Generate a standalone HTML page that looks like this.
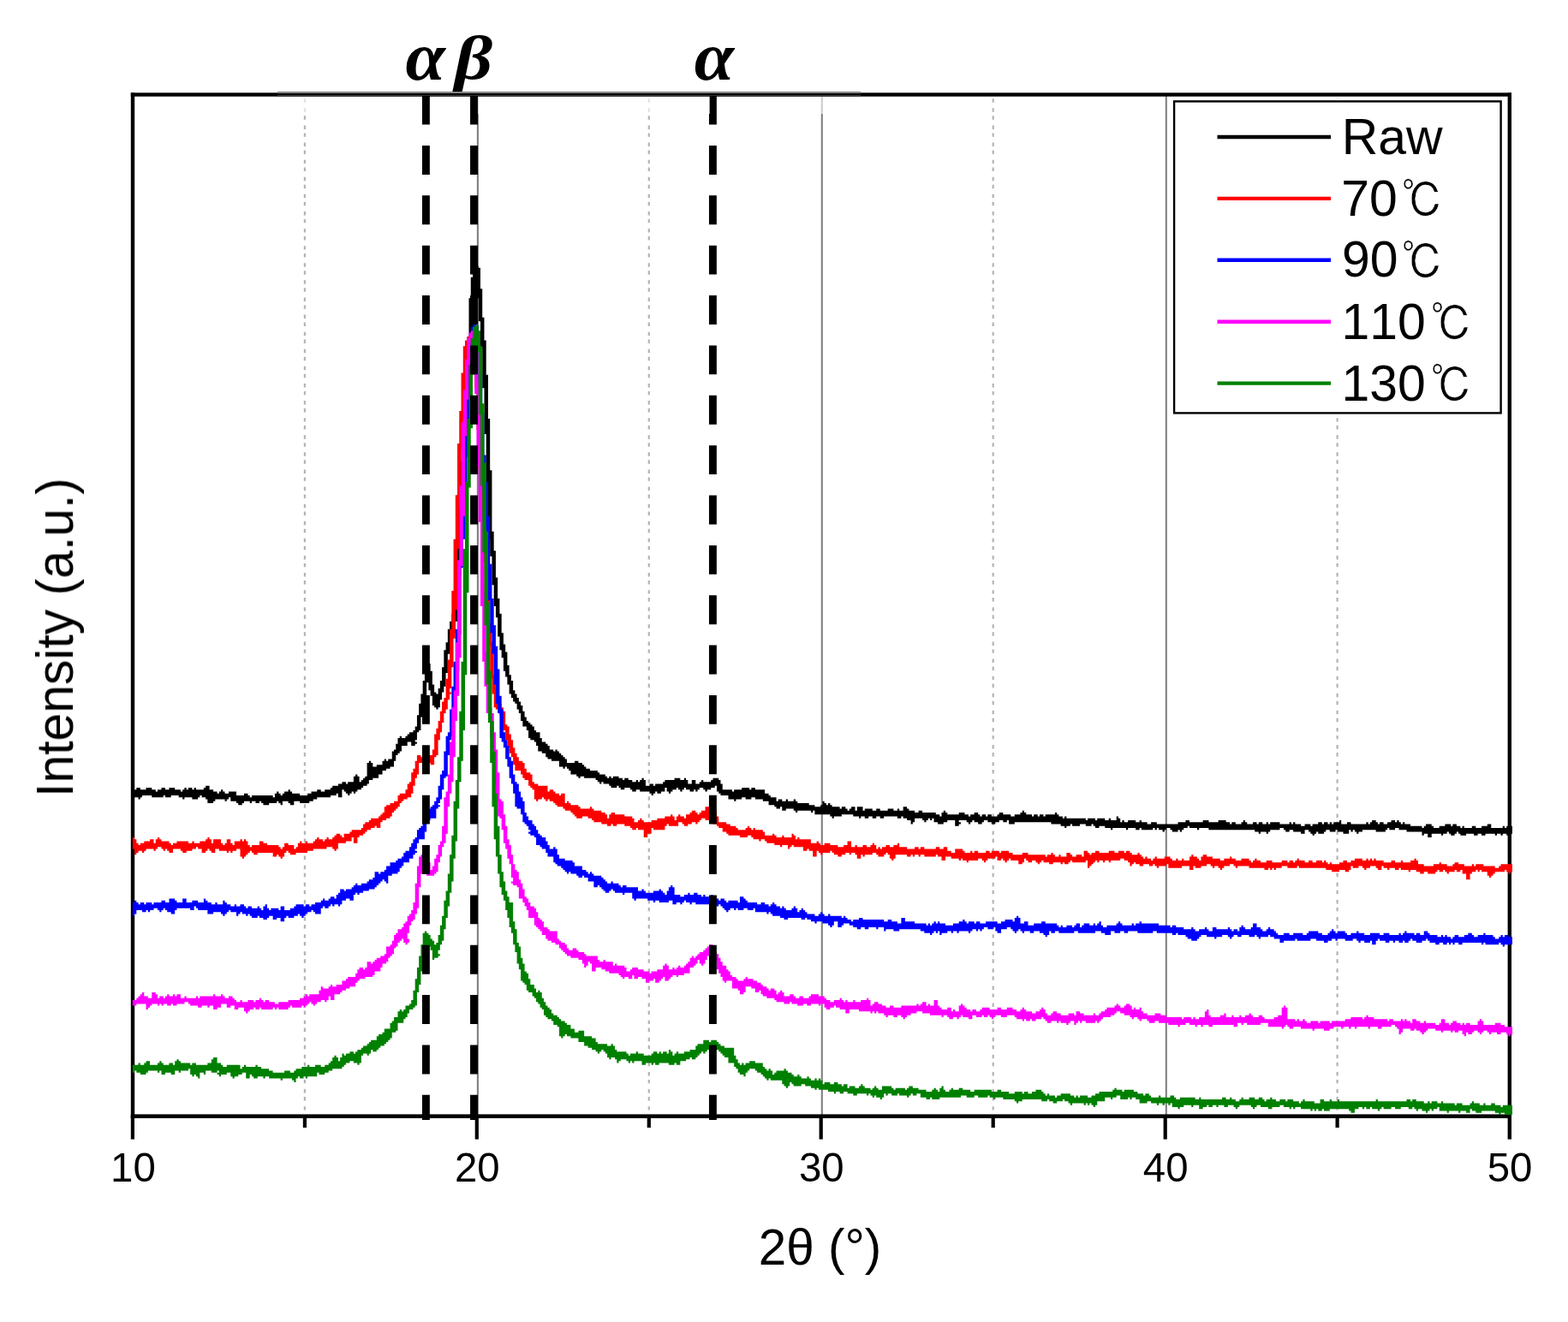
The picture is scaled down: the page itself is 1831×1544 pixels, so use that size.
<!DOCTYPE html>
<html lang="en"><head><meta charset="utf-8"><title>XRD patterns</title>
<style>html,body{margin:0;padding:0;background:#fff}body{width:1831px;height:1544px;overflow:hidden}svg{display:block}text{font-family:"Liberation Sans","Noto Sans CJK KR",sans-serif;fill:#000;font-kerning:none;filter:blur(0.45px)}.gk{font-family:"Liberation Serif","DejaVu Serif",serif;font-weight:bold;font-style:italic}.dc{font-family:"IPAGothic","Noto Sans CJK JP",sans-serif;stroke:#fff;stroke-width:0.5px}</style></head><body>
<svg width="1831" height="1544" viewBox="0 0 1831 1544">
<rect x="0" y="0" width="1831" height="1544" fill="#ffffff"/>
<g stroke="#b4b4b4" stroke-width="2.2" stroke-dasharray="4.45 6.7 4.45 4.5" stroke-dashoffset="-0.2" fill="none">
<line x1="355.9" y1="115" x2="355.9" y2="1298"/>
<line x1="757.8" y1="115" x2="757.8" y2="1298"/>
<line x1="1159.7" y1="115" x2="1159.7" y2="1298"/>
<line x1="1561.6" y1="115" x2="1561.6" y2="1298"/>
</g>
<g stroke="#808080" stroke-width="2.1" fill="none">
<line x1="557.9" y1="112" x2="557.9" y2="1302"/>
<line x1="959.8" y1="112" x2="959.8" y2="1302"/>
<line x1="1361.8" y1="112" x2="1361.8" y2="1302"/>
</g>
<rect x="324" y="112.5" width="681" height="20.5" fill="#fff" fill-opacity="0.6"/>
<g fill="#000">
<rect x="152.8" y="108.3" width="4.4" height="1197.7"/>
<rect x="1760.6" y="108.3" width="4.4" height="1222.3"/>
<rect x="152.8" y="108.3" width="1612.0" height="4.4"/>
<rect x="152.8" y="1301.4" width="1612.0" height="4.6"/>
<rect x="152.8" y="1303" width="4.2" height="27.6"/>
<rect x="554.7" y="1303" width="4.2" height="27.6"/>
<rect x="956.6" y="1303" width="4.2" height="27.6"/>
<rect x="1358.6" y="1303" width="4.2" height="27.6"/>
<rect x="353.8" y="1303" width="4.2" height="14"/>
<rect x="755.7" y="1303" width="4.2" height="14"/>
<rect x="1157.6" y="1303" width="4.2" height="14"/>
<rect x="1559.5" y="1303" width="4.2" height="14"/>
</g>
<rect x="324" y="106.9" width="681" height="2.1" fill="#858585"/>
<rect x="324" y="109" width="681" height="2" fill="#000"/>
<rect x="324" y="111" width="681" height="1.8" fill="#3c3c3c"/>
<g transform="scale(2.2439,2.2331)" stroke="none">
<path fill="#000000" d="M248 139h1v1h1v11h1v15h1v12h1v18h1v23h1v27h1v32h1v10h1v14h1v11h1v8h1v10h1v6h1v4h1v7h1v5h1v3h1v5h1v2h1v2h1v2h1v2h1v3h1v3h1v2h1v1h1v1h1v1h1v2h1v1h2v3h1v2h2v1h1v1h1v2h2v1h1v-1h1v1h1v1h1v1h1v1h1v1h1v2h4v-1h2v1h2v1h1v1h1v1h2v1h4v1h1v1h3v1h1v1h1v-1h1v1h1v-1h3v1h2v1h1v-1h2v1h2v1h2v-1h1v1h1v-1h1v-1h1v1h1v3h2v-1h2v1h1v-1h4v-1h1v-1h5v-1h3v1h2v-1h1v1h1v2h2v-2h2v2h2v-1h1v-1h1v1h4v-1h1v-1h3v1h1v2h1v3h5v1h1v-1h4v-1h4v1h1v-1h2v1h5v2h2v1h1v1h3v2h1v-1h2v1h2v-1h1v1h3v-1h1v1h1v1h6v1h3v1h3v-1h1v-2h1v1h1v1h1v-1h1v1h1v1h4v1h1v-1h2v1h1v1h1v-1h1v-1h2v2h1v-2h3v2h1v-1h4v1h2v-1h2v1h4v-1h3v1h2v-1h1v1h2v-2h2v1h1v1h3v1h2v-1h2v1h7v1h2v1h1v-2h1v-1h1v1h1v1h6v-1h3v1h2v1h1v-1h2v-1h2v1h1v1h1v-1h2v1h1v-1h2v1h3v-1h1v-1h2v1h4v1h2v-1h3v-1h1v-1h1v1h1v1h3v1h1v-1h2v1h1v-1h2v1h1v-1h5v-1h1v1h1v1h2v1h1v-1h1v1h10v1h1v-1h4v1h1v-1h4v1h2v-1h1v1h3v-2h1v1h1v2h1v-1h1v1h2v-1h4v1h2v-1h1v1h3v1h2v-1h3v1h11v-1h4v-1h2v1h7v-1h3v1h5v-1h4v1h2v1h1v-1h2v1h3v-1h1v-1h1v1h1v1h3v-1h2v1h1v-1h2v1h2v-1h1v1h1v-1h5v1h5v-1h1v1h1v-1h1v1h3v1h2v-1h3v1h1v-1h3v-1h2v1h1v-1h2v1h1v-1h1v1h1v-1h3v-1h1v2h3v-1h2v1h8v-1h1v1h1v-1h1v-1h2v1h1v1h1v-1h2v1h2v-1h2v-1h2v1h1v-1h1v1h1v1h1v-1h1v1h3v1h6v1h1v-1h1v-1h3v1h1v1h3v-1h3v-1h3v1h1v-1h2v1h2v1h1v-1h1v1h4v-1h2v1h3v-1h3v-1h2v2h6v-1h1v1h1v-1h3v4h-2v1h-1v-1h-2v1h-1v-1h-2v1h-1v-1h-5v1h-2v-1h-2v1h-2v-1h-4v1h-3v-1h-1v-1h-1v1h-1v1h-2v-1h-1v-1h-1v1h-2v1h-1v-1h-5v2h-2v-2h-2v1h-1v-2h-8v-1h-4v-1h-2v1h-3v-1h-1v1h-1v1h-5v-1h-7v1h-2v1h-1v-1h-1v-1h-1v1h-1v-1h-1v2h-3v-1h-3v-1h-1v1h-3v-1h-2v1h-1v1h-3v-1h-1v1h-1v1h-1v-1h-1v-1h-1v-1h-2v2h-2v-1h-4v-1h-2v1h-2v-1h-1v-1h-2v1h-5v1h-1v1h-1v-1h-3v1h-1v-1h-2v-1h-24v-1h-5v1h-1v-1h-4v-1h-1v1h-2v1h-1v1h-1v-1h-1v1h-3v-1h-1v-1h-2v1h-1v1h-1v-1h-2v-1h-1v1h-1v-1h-1v1h-6v-1h-1v1h-2v-1h-4v1h-1v-1h-7v1h-1v-1h-3v-1h-3v1h-2v-1h-1v-1h-1v1h-3v-1h-3v1h-4v-1h-1v1h-2v1h-1v-1h-2v-1h-5v-1h-19v1h-3v-2h-1v1h-2v-1h-2v1h-2v1h-2v-1h-2v-1h-2v1h-1v1h-2v-1h-2v-1h-1v1h-1v1h-1v-1h-1v-1h-4v1h1v1h-1v1h-2v-3h-4v1h-2v1h-3v-1h-2v-2h-1v1h-1v-1h-1v1h-1v1h-1v-1h-1v-1h-4v2h-1v1h-1v-2h-2v-1h-2v-1h-1v1h-2v-1h-7v1h-2v-1h-2v1h-2v-1h-2v1h-2v-1h-2v1h-1v-1h-3v-1h-6v1h-4v1h-1v-1h-1v-1h-8v-2h-1v1h-1v-1h-7v1h-1v-1h-1v-1h-4v1h-2v-2h-1v1h-2v-1h-1v-1h-3v-2h-3v-1h-4v-1h-2v1h-3v-1h-2v1h-3v1h-1v-1h-3v-2h-4v-1h-1v-1h-1v-3h-1v1h-2v1h-2v1h-1v-1h-1v-1h-2v1h-1v1h-1v-1h-1v1h-2v-1h-2v-1h-1v1h-1v1h-1v-1h-1v-1h-1v1h-2v1h-1v1h-1v-1h-1v-2h-1v2h-2v1h-2v-1h-1v1h-1v1h-1v-1h-1v-1h-5v-1h-2v1h-2v-1h-1v-1h-3v1h-2v-1h-1v-1h-1v1h-3v-1h-1v-1h-3v-1h-1v1h-1v-1h-1v-1h-1v-1h-6v-1h-2v1h-1v-1h-1v-1h-3v-2h-1v-1h-1v-1h-1v1h-1v-1h-2v-3h-4v-1h-2v-1h-1v-2h-2v-1h-2v-3h-1v-2h-1v-1h-2v-1h-1v-4h-1v-2h-2v-3h-1v-4h-1v-2h-1v-3h-1v-1h-1v-2h-1v-2h-1v-5h-1v-4h-1v-3h-1v-7h-1v-4h-1v-7h-1v-10h-1v-6h-1v-11h-1v-15h-1v-9h-1v-28h-1v-27h-1v-24h-1v-21h-1v-14h-1v-12h-2v5h-1v20h-1v19h-1v14h-1v13h-1v19h-1v22h-1v33h-1v18h-1v1h1v1h-1v4h-1v6h-1v2h-1v8h-1v1h-1v10h-1v7h-1v3h-1v4h-1v4h-1v1h-1v-1h-1v-1h-1v-5h-1v-3h-1v-4h-1v9h-1v5h-1v4h-1v7h-1v1h-1v4h-1v1h1v1h-1v1h-2v-2h-2v2h-3v3h-1v1h-1v1h-1v3h-1v3h-2v1h-2v1h-2v2h-2v2h-3v1h-2v2h-1v1h-2v1h-1v1h-2v1h-1v1h-1v-1h-1v1h-1v1h-1v-1h-1v-1h-1v-1h-1v4h-2v-2h-1v1h-3v1h-7v1h-2v1h-2v1h-5v-1h-3v2h-2v-1h-1v-1h-3v2h-1v-1h-1v-1h-1v1h-4v1h-3v-1h-1v-1h-1v1h-2v-1h-2v1h-1v-1h-3v1h-1v1h-2v-1h-1v-1h-3v-2h-1v1h-1v1h-1v-1h-5v1h-1v1h-3v-2h-1v-1h-2v-1h-1v1h-1v1h-3v-1h-4v1h-1v-1h-2v-1h-4v1h-3v-1h-1v1h-6v-1h-5v1h-1v1h-1v-1h-2v1h-1v-4h1v-1h1v-1h2v1h3v-1h3v1h2v1h1v-1h2v-1h2v1h2v-1h3v1h3v1h1v-1h1v-1h1v1h1v-1h2v1h1v-1h1v1h4v-1h1v-1h2v2h2v1h2v1h1v-1h1v-1h1v1h1v1h2v-1h4v2h4v-1h2v1h1v1h1v-1h11v1h1v-2h1v-1h1v1h1v1h1v-1h1v-1h2v-1h1v1h1v1h4v1h4v-1h2v-1h3v-1h2v1h2v-1h3v-1h1v-1h3v-1h2v-1h2v1h1v-1h3v-3h1v-1h1v1h1v3h1v-1h1v-1h1v-1h1v-7h1v-1h1v1h1v2h2v-1h3v-2h1v-1h1v1h1v-1h2v-4h1v-1h1v-3h1v-3h1v-1h1v1h2v-1h1v-1h1v-1h2v-1h1v-2h1v-6h1v-6h1v-5h1v-7h1v-6h1v-3h2v4h1v7h1v4h1v1h1v-3h1v-4h1v-7h1v-9h1v-4h1v-7h1v-4h1v-4h1v-4h1v-20h1v-33h1v-23h1v-18h1v-13h1v-12h1v-20h1v-22h1v-11h1v-4h1v-1h1z"/>
<path fill="#ff0000" d="M243 176h3v1h1v1h1v4h1v15h1v25h1v21h1v21h1v24h1v18h1v20h1v10h1v17h1v7h1v6h1v2h1v2h1v2h1v7h1v1h1v4h1v3h1v4h1v3h1v2h1v2h2v1h1v3h1v2h2v1h1v4h1v1h2v1h5v3h1v-1h2v1h1v1h2v1h1v-1h2v5h1v-1h1v1h1v1h4v1h1v1h5v-1h1v1h1v1h4v1h2v1h1v2h1v-2h1v-1h2v1h5v1h4v1h1v2h2v-1h1v-1h1v1h1v1h4v-1h3v-1h4v-1h3v-1h1v1h1v2h1v-2h1v-1h1v1h2v1h1v-2h2v-1h1v-1h2v1h1v1h1v-1h1v-1h2v-2h2v1h1v1h3v3h1v3h4v1h2v1h3v1h1v1h4v-1h1v-1h1v1h1v1h1v-1h1v1h4v1h1v2h4v-1h1v1h1v1h3v-1h1v1h4v-2h1v1h1v2h1v-1h1v1h6v2h3v-1h1v1h1v1h2v-1h3v1h4v1h3v-1h2v-2h2v3h2v-1h1v1h3v-1h2v1h2v-1h1v-1h1v1h1v2h1v-1h1v1h1v-1h2v-1h2v1h2v-1h2v-1h1v2h4v1h4v-1h2v1h1v-1h2v1h6v-1h2v1h2v-1h2v2h2v1h2v-2h4v1h1v1h3v-1h1v1h1v-1h2v1h4v-1h2v1h1v-1h4v1h1v-1h4v1h2v1h5v-1h3v1h9v1h1v-1h2v-1h1v1h1v1h2v-1h1v1h3v-2h2v1h1v1h2v-1h3v1h1v-3h2v1h1v1h1v-1h2v-1h2v1h5v-1h3v1h2v-1h3v1h1v-1h2v1h1v1h3v-1h1v1h1v1h1v1h1v-1h1v1h2v1h1v-1h1v-1h1v1h4v-1h3v1h1v1h2v-1h1v1h2v-1h1v1h3v-2h1v-1h1v1h2v1h1v1h1v-2h1v-1h2v1h3v1h4v1h2v-1h3v-1h1v1h2v1h3v-1h4v1h1v1h1v-1h1v-1h1v1h2v1h3v-1h3v1h5v-1h3v1h1v-1h2v1h1v-1h1v-1h1v1h3v1h2v-1h2v1h2v-1h3v1h1v-1h1v1h1v1h1v-1h1v1h4v-1h2v-1h2v1h2v-1h2v-1h4v1h2v-1h1v1h1v-1h1v1h1v-1h1v1h4v1h4v-1h2v1h3v-1h1v1h4v-1h2v-1h1v1h1v2h3v1h5v-1h3v-1h1v1h3v1h3v-1h1v-1h2v1h3v1h4v-1h1v1h1v-1h4v1h6v1h2v-1h1v-1h6v4h-1v1h-1v-1h-1v-1h-1v1h-5v1h-1v1h-1v1h-1v-1h-1v-2h-3v-1h-1v1h-1v-1h-1v1h-2v1h-1v3h-2v-3h-2v-2h-1v1h-2v-1h-1v1h-3v1h-1v-1h-1v-1h-1v1h-2v-1h-1v1h-1v1h-4v-1h-2v1h-2v-1h-2v-1h-3v1h-1v-1h-4v-1h-1v1h-2v-1h-3v1h-1v-1h-2v-1h-1v2h-2v-1h-1v-1h-3v1h-2v1h-1v-1h-1v-1h-2v1h-3v-1h-1v2h-1v1h-2v-1h-3v1h-4v-1h-3v-1h-14v-1h-1v1h-5v-1h-3v1h-3v1h-1v-1h-1v1h-1v-1h-1v1h-2v-1h-8v-1h-6v1h-1v-1h-1v-1h-2v1h-3v1h-1v1h-1v-1h-1v-1h-2v1h-1v-1h-1v-1h-2v1h-3v1h-3v-1h-1v2h-2v-2h-4v1h-7v-2h-1v1h-4v1h-1v-1h-1v-1h-1v1h-2v-1h-3v1h-2v-1h-2v-1h-1v1h-1v1h-1v-2h-1v-1h-2v-1h-2v1h-5v1h-1v-1h-2v1h-1v-1h-2v1h-1v-1h-1v1h-1v1h-1v1h-1v1h-1v-4h-1v1h-7v-1h-1v1h-1v1h-2v-1h-1v1h-1v-1h-4v1h-2v-1h-3v-1h-1v1h-1v1h-1v-1h-1v-1h-2v1h-2v-1h-1v-1h-1v2h-1v1h-2v-2h-4v-1h-1v1h-1v1h-1v-1h-1v-1h-1v1h-2v-2h-1v1h-4v1h-1v1h-1v-1h-1v-1h-2v1h-5v1h-1v-1h-2v-1h-1v1h-1v-1h-4v-1h-3v2h-2v-2h-2v-1h-1v1h-6v-1h-2v1h-1v-1h-2v1h-1v-1h-1v1h-2v-1h-6v2h-1v1h-1v-1h-1v-2h-1v-1h-1v1h-1v1h-3v-1h-1v-1h-2v1h-4v1h-1v-1h-1v2h-2v-2h-1v-1h-2v1h-1v-1h-2v1h-2v1h-2v-1h-2v-1h-1v-1h-1v1h-4v1h-1v-1h-1v-1h-1v3h-2v-3h-2v-1h-1v1h-2v-2h-5v-1h-1v1h-1v1h-1v-2h-3v1h-1v-1h-3v-1h-4v-1h-1v-1h-2v1h-1v-1h-3v-1h-1v-1h-2v1h-4v-1h-6v-1h-1v-1h-2v-2h-2v-1h-1v-1h-2v-1h-1v-2h-1v1h-2v-1h-2v1h-1v1h-1v1h-1v-1h-2v1h-2v1h-2v-1h-1v-1h-2v2h-5v-1h-1v1h-1v2h-6v-1h-1v3h-2v2h-2v-4h-3v-1h-1v1h-2v-1h-1v-1h-3v-1h-4v1h-2v-1h-1v1h-2v-1h-3v-1h-4v-1h-1v-1h-2v-1h-3v1h-3v-1h-1v-1h-1v-1h-1v-1h-3v-1h-1v-1h-3v-1h-1v-1h-1v-1h-2v-1h-1v1h-1v-1h-1v-1h-1v1h-2v1h-1v-1h-1v-5h-1v-1h-1v-1h-1v-3h-2v-1h-1v-2h-1v-2h-3v-3h-1v-4h-1v-2h-1v-3h-1v-4h-1v-5h-1v-1h-1v-7h-1v-2h-1v-1h-1v-1h-1v-7h-1v-8h-1v-17h-1v-7h-1v-20h-1v-17h-1v-24h-1v-24h-1v-21h-1v-22h-1v-18h-1v-6h-2v4h-1v17h-1v20h-1v15h-1v30h-1v22h-1v32h-1v15h-1v15h-1v11h-1v2h1v1h-1v3h-1v5h-1v2h-1v5h-1v5h-1v4h-1v8h-1v1h-1v4h-2v-1h-1v1h-1v1h-1v-1h-1v-1h-2v6h-1v2h-1v4h-1v4h-1v2h-2v1h-2v1h-1v1h-1v2h-1v1h-1v1h-1v1h-1v2h-1v1h-2v1h-2v1h-1v3h-2v-1h-1v1h-2v1h-2v1h-1v1h-1v1h-2v1h-1v3h-2v-3h-1v2h-3v1h-4v3h-1v1h-1v-1h-1v-1h-3v1h-7v1h-3v1h-6v1h-3v-1h-1v-1h-1v1h-1v2h-1v1h-1v-1h-1v-1h-1v1h-2v-2h-8v1h-2v-1h-1v-1h-1v1h-1v1h-1v1h-1v1h-1v-1h-1v-4h-2v1h-2v1h-1v-1h-1v1h-1v-1h-4v-1h-2v2h-2v-1h-1v-1h-1v1h-1v1h-2v-2h-2v-1h-1v1h-2v1h-3v1h-2v-1h-1v-1h-4v2h-2v-1h-1v-1h-1v1h-1v-1h-1v-1h-2v1h-1v1h-1v-1h-4v1h-1v1h-1v-1h-2v1h-1v1h-1v-3h-1v-6h1v1h1v2h1v1h1v-1h2v-1h3v-1h2v2h1v-2h1v-1h1v1h1v1h4v1h1v1h1v-1h2v-1h6v1h2v-1h1v1h3v-1h3v-1h1v-1h1v1h1v2h1v-2h4v2h1v1h1v-1h1v-2h2v2h1v1h1v-2h3v-1h1v1h1v-1h1v1h1v2h1v1h1v-1h4v-2h2v1h2v1h6v1h1v1h1v-1h1v-2h2v1h3v2h1v-1h1v-2h1v-1h1v1h2v-1h1v1h3v-1h1v-1h1v-1h1v1h2v1h1v-1h1v-1h1v1h2v-1h1v-1h1v-1h2v1h1v1h1v-2h3v-1h1v-1h5v-1h1v-2h1v-1h2v-1h1v-1h4v-1h1v-1h1v-1h1v-3h1v-1h2v-1h2v-1h2v-3h1v-1h3v-2h1v-3h1v-1h1v-5h1v-2h1v-4h1v-3h2v1h1v-2h1v-1h1v1h1v1h2v-3h1v-8h1v-3h1v-4h1v-5h1v-5h1v-2h1v-10h1v-10h1v-16h1v-20h1v-27h1v-23h1v-27h1v-17h1v-20h1v-14h1v-3h1z"/>
<path fill="#0000ff" d="M246 169h2v1h1v5h1v20h1v21h1v22h1v14h1v18h1v25h1v18h1v14h1v11h1v12h1v14h1v7h1v12h1v4h1v3h1v6h1v2h1v7h1v4h1v1h1v4h1v3h1v2h1v6h1v2h1v2h2v2h1v1h1v2h1v2h1v1h1v1h2v2h1v2h1v2h2v-1h1v1h1v3h1v2h3v1h4v1h1v2h4v2h2v1h1v1h1v-1h1v1h1v1h4v1h1v1h1v1h1v1h2v-1h1v1h3v1h1v1h1v-1h2v1h6v2h2v-1h1v1h1v1h4v-1h3v-1h1v1h1v1h1v1h1v-2h1v-2h1v-1h1v1h1v4h3v1h2v-1h2v-1h1v1h2v-1h2v1h2v1h1v-1h1v1h3v-1h1v1h2v1h1v1h1v-1h2v1h1v1h1v-1h5v1h1v-3h2v1h1v1h1v1h5v1h2v-1h2v1h2v1h1v-1h1v-1h1v1h1v1h2v1h1v-1h1v1h1v1h3v-1h1v-1h1v1h1v2h1v-1h1v-1h1v1h1v1h1v1h4v1h2v-1h1v-1h1v1h1v1h2v-1h1v1h6v1h1v-1h1v1h1v1h2v1h1v-1h3v-1h2v1h11v1h2v-1h2v1h3v1h2v-3h2v2h5v1h6v1h1v-1h1v1h1v-1h1v-1h1v1h1v-1h1v1h3v1h4v-1h3v-1h2v-1h1v1h1v1h1v-1h3v1h1v-1h2v1h3v-1h6v1h2v-1h2v-1h4v1h1v-2h1v-1h1v1h1v3h2v-1h2v2h3v-1h4v-1h2v1h6v1h1v1h1v-1h1v1h2v-1h3v1h1v-1h1v-1h2v2h1v-1h1v-1h3v1h2v-1h1v1h1v-1h1v-1h1v2h1v1h2v-1h5v-1h1v-1h1v1h1v1h5v-1h1v1h1v-1h2v-1h1v1h9v1h6v1h1v-1h2v1h4v1h4v-1h1v1h1v1h2v-1h3v-1h1v1h1v1h2v-2h2v1h6v-1h1v1h1v1h1v-1h2v1h1v-2h1v-1h1v1h1v1h3v-1h1v-2h2v2h2v1h1v1h2v-1h1v-1h1v1h2v1h1v1h1v1h3v-1h3v1h2v-1h5v1h2v-1h1v-1h5v1h2v1h3v-1h1v-1h1v-1h1v1h1v1h1v-1h4v1h1v1h2v-1h3v-1h1v1h3v1h3v-1h5v1h2v-1h3v1h5v-1h1v1h1v-1h1v-1h1v1h4v1h1v-1h2v1h2v-2h2v1h1v1h4v1h2v-1h1v1h1v-1h1v1h2v1h1v-1h1v-1h2v1h3v-1h2v-1h2v1h1v1h2v-1h3v-1h1v1h4v1h1v1h2v-1h1v-1h1v1h1v-1h2v1h2v4h-4v1h-1v-1h-1v-1h-1v1h-7v-1h-1v1h-1v-1h-10v1h-2v-1h-2v1h-1v-1h-1v1h-1v-1h-1v1h-2v-1h-2v1h-2v-1h-3v-1h-1v-1h-1v1h-2v1h-3v-1h-2v-1h-1v1h-1v1h-2v-1h-1v1h-2v-1h-2v1h-1v-1h-2v1h-2v-1h-3v-1h-1v1h-1v2h-2v-2h-1v1h-3v-1h-2v1h-1v-1h-1v-1h-2v1h-4v-1h-4v1h-1v-1h-2v1h-2v1h-2v-1h-4v-1h-3v1h-7v-1h-1v1h-6v1h-2v-2h-3v-1h-2v-1h-1v1h-4v1h-1v-1h-1v-1h-1v1h-3v-1h-4v1h-2v-1h-2v1h-1v1h-1v-1h-1v-1h-3v1h-3v1h-1v-1h-4v-1h-3v1h-1v1h-1v1h-3v-1h-2v-1h-1v-1h-4v-1h-1v1h-2v-1h-8v-1h-2v1h-8v-1h-5v1h-2v-1h-2v1h-3v-1h-2v2h-3v-1h-2v-1h-3v1h-9v-1h-2v1h-8v-1h-2v1h-2v-1h-1v2h-1v1h-1v-1h-1v-1h-2v-1h-3v1h-2v-1h-3v1h-1v-1h-1v-1h-1v1h-1v1h-1v-1h-1v-1h-1v-1h-2v1h-3v2h-2v-1h-1v-2h-1v1h-3v-1h-2v1h-1v1h-1v-1h-1v1h-1v-1h-2v1h-1v1h-1v-1h-5v1h-1v-1h-2v1h-1v-1h-2v1h-3v1h-1v-2h-1v1h-1v-1h-1v1h-1v1h-1v-1h-3v-1h-2v-1h-11v1h-3v-1h-4v1h-1v-2h-3v1h-1v-1h-4v1h-2v-1h-2v1h-2v-1h-2v-1h-2v-1h-3v1h-1v1h-2v-3h-2v2h-1v1h-1v-1h-1v-1h-3v-1h-3v1h-1v-1h-2v-1h-2v-1h-1v1h-2v-1h-7v1h-2v-1h-2v-1h-4v-1h-1v-1h-1v1h-1v-1h-6v-2h-1v1h-3v-1h-2v1h-3v-1h-1v1h-1v-1h-2v1h-1v1h-1v-1h-1v-1h-1v-1h-1v-1h-1v1h-3v-1h-9v-1h-2v1h-1v-1h-2v-1h-1v1h-1v1h-1v-1h-2v1h-2v-2h-2v1h-5v-1h-2v1h-1v-1h-3v-1h-6v1h-1v-1h-1v-3h-4v1h-1v-1h-4v-1h-1v-1h-1v1h-1v1h-2v-1h-1v-1h-1v-1h-1v-1h-1v1h-2v-3h-3v-2h-2v-1h-1v1h-2v-1h-1v-1h-3v-1h-1v1h-1v-1h-1v-1h-1v-1h-1v-1h-2v-1h-1v-1h-1v-3h-3v-2h-1v-2h-2v-1h-1v-1h-2v-4h-1v-1h-2v-1h-1v-1h1v-1h-1v-2h-1v-1h-1v-1h-1v-4h-1v-3h-2v-1h-1v-7h-1v-5h-1v-3h-1v-6h-1v-4h-1v-6h-1v-3h-1v-2h-1v-13h-1v-5h-1v-10h-1v-16h-1v-11h-1v-17h-1v-13h-1v-24h-1v-20h-1v-13h-1v-22h-1v-19h-1v-25h-1v5h-1v16h-1v20h-1v20h-1v21h-1v22h-1v15h-1v35h-1v19h-1v13h-1v12h-1v9h-1v2h-1v8h-1v11h-1v1h-1v6h-1v5h-1v2h-1v1h1v1h-1v1h-1v5h-3v1h-1v1h-1v5h-1v4h-3v2h-1v3h-1v1h1v1h-1v1h-1v2h-2v2h-3v2h-1v1h-1v2h-1v1h-3v1h-2v4h-1v-1h-1v-1h-1v1h-1v1h-1v1h-1v1h-1v1h-3v1h-3v1h-2v1h-1v-1h-1v1h-1v3h-2v-1h-2v1h-2v2h-1v1h-1v-1h-2v1h-1v-1h-1v1h-1v1h-2v-1h-1v1h-1v3h-3v-1h-1v-1h-1v1h-2v1h-1v1h-1v1h-1v-1h-1v-1h-1v1h-2v1h-3v-1h-1v1h-1v2h-2v-2h-2v1h-2v-2h-2v1h-1v1h-2v-1h-2v-1h-1v1h-3v-1h-1v-1h-1v1h-1v-1h-2v-1h-1v1h-1v1h-1v-2h-3v-1h-1v1h-1v1h-1v1h-1v-1h-1v-1h-4v1h-3v-2h-5v-1h-1v-1h-1v2h-2v-1h-7v1h-1v2h-2v-1h-2v-1h-1v-1h-1v1h-1v1h-1v-1h-1v-1h-2v1h-2v1h-1v-1h-1v1h-2v-1h-3v2h-1v1h-1v-7h1v-1h1v1h1v1h1v-1h2v1h1v-1h3v1h1v-1h4v-1h2v1h2v-2h3v1h1v1h3v-2h2v2h3v-1h3v1h3v-2h1v1h1v1h2v1h2v-1h1v1h3v-2h1v1h1v1h2v1h2v-1h1v1h2v-1h2v1h1v1h1v-1h2v1h3v-1h1v1h1v1h1v-2h1v-1h1v2h1v1h1v-1h4v1h1v-2h2v2h3v-1h2v-1h1v-1h4v1h1v-1h2v1h1v-1h2v-1h3v-1h1v-1h1v1h2v-1h1v-1h2v1h1v-2h1v-1h1v-2h2v1h1v-1h3v-1h1v-1h1v-1h1v1h2v-1h3v-1h1v-1h2v-1h1v-3h2v1h1v-1h2v-1h1v-2h2v-2h3v-1h1v-1h2v-1h1v-2h1v-1h2v-2h1v-2h1v-2h1v-1h1v-4h1v-1h1v-1h1v-3h1v-6h1v-1h1v1h1v-1h1v-1h1v-2h1v-2h1v-6h1v-6h1v-2h1v-10h1v-8h1v-2h1v-12h1v-12h1v-13h1v-17h1v-33h1v-20h1v-23h1v-19h1v-20h1v-17h1v-17h1v-9h1z"/>
<path fill="#ff00ff" d="M245 173h2v1h1v5h1v20h1v39h1v29h1v42h1v32h1v13h1v16h1v3h1v10h1v9h1v12h1v14h1v1h1v7h1v6h1v7h1v3h1v5h1v5h1v3h1v1h1v4h1v2h1v3h1v4h1v1h1v2h1v2h2v1h1v2h1v3h1v1h1v1h1v3h2v1h1v1h4v4h1v1h1v1h2v1h1v2h1v1h2v-1h2v1h1v1h3v1h1v1h6v2h1v1h2v-1h1v1h4v2h1v-1h1v1h4v1h1v2h2v-1h1v-1h3v1h3v1h3v1h1v-1h3v-1h3v-2h1v-1h1v1h1v2h2v-1h1v1h1v-1h1v-1h1v1h2v-1h1v-1h1v-1h1v-2h1v-1h1v1h1v-1h1v-1h1v-1h2v-1h1v-1h1v-1h1v-1h2v2h1v2h1v1h1v2h1v2h1v2h2v2h1v1h1v2h1v1h2v1h1v1h3v-1h1v-1h1v1h3v1h2v1h2v1h1v1h2v1h1v1h1v-1h2v1h1v2h1v-1h1v-1h1v1h1v2h3v-1h2v1h1v1h2v-1h2v1h3v-1h1v-1h4v1h3v1h1v1h2v1h2v-1h3v-1h1v1h1v1h1v-1h1v1h3v-1h1v1h3v-1h3v-1h1v1h1v3h1v-1h1v-1h2v1h2v1h2v1h2v-1h2v1h4v-1h8v-1h1v1h1v-1h1v-1h2v2h1v-1h1v1h2v-3h2v3h1v1h1v1h3v-1h2v2h1v-1h1v1h2v-3h1v-1h1v1h1v1h1v1h2v1h1v-1h2v1h2v-1h1v-1h4v1h4v-1h2v1h3v-1h3v1h2v1h2v-1h1v-1h1v1h1v1h3v1h2v-1h2v-1h1v-1h1v1h1v2h1v1h2v-1h1v-1h2v1h2v1h4v-1h3v1h1v-2h2v1h2v1h5v-1h1v1h2v-1h1v-1h2v-1h1v-1h4v-1h1v-1h1v1h1v1h2v-1h1v-1h2v1h1v2h1v-1h1v1h2v-1h1v2h1v1h2v1h4v-1h3v1h3v1h8v1h1v-1h4v1h1v-1h1v1h2v-1h3v-3h1v-1h1v3h1v1h5v-1h2v-1h1v2h3v-1h1v1h3v-1h1v1h2v-1h2v-1h1v1h1v1h3v-1h2v1h1v1h5v-1h2v-1h2v-4h1v-1h1v1h1v6h4v1h1v-1h1v1h2v-1h1v1h1v1h2v-1h4v1h1v-1h5v1h1v-1h7v-1h3v-1h6v1h1v-1h1v-1h1v1h3v1h7v1h1v-1h2v1h4v-1h1v1h1v-1h1v1h2v1h1v-2h2v1h2v1h2v-1h1v1h5v1h2v-1h1v-2h2v2h2v1h1v-1h1v-1h2v1h2v1h1v-1h1v1h1v-1h2v1h4v-2h1v-1h1v1h1v2h6v-1h3v1h2v1h4v4h-1v1h-1v-1h-1v-1h-3v1h-2v-1h-3v1h-1v-1h-1v-1h-2v1h-1v1h-1v-1h-1v-1h-2v1h-1v1h-2v-1h-1v2h-1v-1h-1v-2h-2v1h-2v-1h-1v1h-1v-1h-4v1h-1v-1h-3v-1h-4v1h-1v1h-1v1h-1v-1h-1v-1h-2v-1h-1v1h-2v-1h-4v2h-1v1h-1v-3h-1v-1h-1v-1h-2v1h-5v1h-2v-1h-4v1h-1v-1h-6v1h-1v-1h-2v1h-1v-1h-3v1h-1v-1h-4v1h-2v1h-3v-1h-5v1h-1v-1h-6v-1h-4v1h-2v-1h-1v-1h-1v1h-1v1h-1v-1h-7v-2h-4v1h-7v-1h-2v1h-1v-1h-2v2h-2v-1h-11v1h-2v-1h-3v1h-1v-1h-2v1h-1v-1h-3v-1h-2v1h-3v1h-1v-1h-5v-1h-5v-1h-2v1h-3v-1h-1v-1h-3v1h-1v-1h-1v-1h-2v1h-1v-1h-1v-1h-3v-1h-2v-1h-2v1h-1v1h-2v1h-4v1h-1v1h-1v1h-1v-1h-1v1h-5v-1h-2v1h-1v-1h-1v1h-1v1h-1v-2h-2v1h-1v1h-1v-1h-3v-1h-1v1h-1v-1h-3v1h-2v-1h-1v-1h-1v-1h-1v1h-3v1h-2v-1h-1v1h-2v-1h-1v1h-1v-1h-3v-1h-1v-1h-4v1h-3v-1h-3v1h-1v1h-1v-1h-1v-1h-1v1h-2v-1h-1v1h-3v-1h-2v2h-2v-1h-3v-1h-1v1h-1v1h-1v-1h-2v1h-2v-1h-1v-1h-2v1h-1v-1h-6v-1h-4v-1h-3v1h-3v1h-2v1h-1v1h-1v-1h-1v-1h-2v1h-2v-1h-3v1h-1v-1h-1v-1h-3v-1h-1v1h-1v-1h-1v1h-1v-1h-6v-1h-5v2h-2v-2h-3v-1h-2v-1h-1v1h-2v1h-2v-1h-1v-2h-2v1h-1v-1h-4v1h-2v-1h-2v1h-3v-1h-3v-1h-1v1h-3v-1h-4v-1h-1v-1h-4v-1h-2v-1h-1v-2h-1v1h-2v-2h-2v-1h-3v3h-1v1h-2v-2h-1v-1h-3v-4h-3v1h-1v-1h-1v-2h-1v-2h-1v-2h-1v-4h-1v-2h-1v1h-1v-1h-1v-1h-1v2h-1v2h-1v1h-1v-1h-1v-2h-1v2h-1v1h-1v1h-2v3h-3v1h-3v1h-1v-1h-2v1h-1v1h-1v1h-2v-2h-1v1h-1v1h-1v1h-2v-2h-1v1h-2v1h-2v-2h-2v-1h-2v1h-2v-2h-1v2h-2v-1h-2v1h-1v-1h-1v-1h-1v-1h-5v-1h-2v-1h-2v-1h-3v2h-2v-4h-1v-1h-1v2h-1v1h-1v-2h-1v-2h-2v-1h-4v-1h-2v-1h-1v-1h-1v-1h-1v-1h-1v-2h-2v-1h-2v-1h-2v-1h-1v-2h-2v-2h-1v-1h-1v-1h-1v-1h-1v-4h-3v-4h-1v-2h-1v-2h-1v-2h-2v-6h-1v-1h-2v-1h-1v-1h1v-2h-1v-7h-1v-3h-1v-5h-1v-3h-1v-7h-1v-6h-1v-1h-1v-8h-1v-8h-1v-18h-1v-7h-1v-8h-1v-5h-1v-14h-1v-13h-1v-29h-1v-44h-1v-29h-1v-38h-1v-24h-1v-5h-1v14h-1v18h-1v19h-1v42h-1v26h-1v48h-1v20h-1v13h-1v19h-1v13h-1v6h-1v7h-1v14h-1v5h-1v2h-1v5h-1v3h-1v5h-1v1h-1v1h-4v-2h-2v1h-1v7h-1v11h-1v3h-1v3h-1v1h-1v2h-1v4h-1v3h1v2h-1v1h-1v-1h-1v-2h-1v1h-1v1h-1v2h-1v1h-1v3h-1v1h-1v1h-1v2h-1v1h-2v2h-1v2h-3v2h-1v1h-4v1h-3v1h-1v1h-1v2h-3v1h-2v1h-2v1h-1v1h-3v3h-2v-2h-1v2h-1v1h-1v-1h-2v1h-2v1h-1v1h-1v-1h-1v-1h-1v1h-1v1h-1v1h-1v-1h-1v1h-5v-1h-1v1h-1v1h-5v-1h-1v1h-1v-1h-1v1h-6v-1h-1v1h-2v-1h-1v1h-2v1h-1v1h-1v-1h-1v-2h-3v1h-2v-2h-2v1h-2v-2h-3v2h-2v1h-2v-2h-2v1h-1v-1h-3v1h-2v-1h-4v-1h-1v-1h-2v1h-4v1h-2v-1h-1v1h-2v-1h-2v1h-1v-1h-1v1h-1v-1h-3v1h-1v1h-1v1h-1v-3h-5v1h-2v-3h2v-1h1v-1h1v-1h1v-1h1v2h2v1h2v-3h2v1h1v2h1v-1h2v1h1v-1h1v-1h1v1h2v-1h1v1h1v-1h2v2h2v-1h1v1h5v-1h1v1h1v-1h7v-1h1v1h3v-1h1v1h1v1h2v-1h2v1h1v1h1v1h2v-1h1v1h3v-1h3v1h1v-1h2v-1h1v1h1v1h1v-1h2v1h3v1h2v-1h5v-1h6v-1h2v-1h1v-1h1v1h1v-1h5v-2h1v-2h1v1h3v-1h1v-1h1v1h2v-1h3v-2h2v-1h1v-1h4v-2h1v-2h1v-1h2v1h1v-1h1v-3h2v1h1v-1h1v-1h1v-1h2v-1h2v-1h1v-4h2v-1h1v-2h1v-3h1v-1h1v-2h2v-1h1v-2h1v-1h1v-3h1v-1h1v-2h1v-4h1v-10h1v-9h1v-5h1v-1h1v1h1v1h1v1h1v1h1v4h1v-2h1v-4h1v-2h1v-5h1v-2h1v-8h1v-15h1v-3h1v-9h1v-17h1v-18h1v-9h1v-25h1v-43h1v-39h1v-33h1v-17h1v-16h1v-11h1v-3h1z"/>
<path fill="#008000" d="M247 170h2v3h1v8h1v30h1v31h1v36h1v37h1v36h1v26h1v16h1v22h1v17h1v15h1v9h1v5h1v5h1v3h1v3h2v10h1v4h1v7h1v2h1v6h1v3h1v4h1v1h1v3h1v3h2v2h1v2h1v-1h1v1h1v3h1v2h1v2h1v1h1v1h1v2h1v1h2v1h1v1h1v1h2v1h1v1h2v2h2v2h2v-1h3v3h4v1h2v2h1v1h5v1h2v-1h1v1h1v2h1v1h5v1h1v1h1v-1h3v-1h1v1h3v1h4v-1h1v-1h2v1h1v-1h1v1h1v-1h2v1h1v-2h1v1h1v2h1v-1h1v-1h1v1h3v-1h3v-1h3v-2h1v-1h3v-2h3v1h1v-1h3v1h1v1h1v1h2v1h5v4h1v2h1v2h1v1h1v-1h1v1h1v-1h2v-1h3v1h4v2h1v1h1v1h1v-1h1v1h1v2h1v-1h1v-1h4v-1h1v1h1v1h2v1h1v1h2v-1h1v1h1v1h3v-1h1v1h1v1h2v-1h1v1h1v-1h1v1h1v2h1v-1h3v1h2v-1h2v1h2v1h1v-1h2v2h1v-1h3v1h2v-1h1v-1h1v1h1v1h3v1h1v-1h1v-1h1v1h1v1h2v-2h5v1h1v1h1v-1h5v1h1v-1h1v-1h2v1h3v1h4v1h3v-1h1v-1h1v1h1v1h1v-2h1v-1h1v2h1v1h2v-1h1v-1h1v1h3v-1h2v1h4v1h2v-1h9v1h3v-1h2v1h4v1h3v-1h4v1h1v-1h2v1h2v-1h2v-1h3v1h1v1h1v1h1v-1h1v1h3v1h1v-1h2v-1h5v1h2v1h1v-1h1v1h1v-1h4v1h2v-1h2v-1h2v-1h7v-1h1v-1h1v1h3v1h1v-1h5v1h2v1h3v1h1v-1h2v1h1v1h4v-1h1v1h5v-1h2v1h1v1h2v-1h8v1h2v-1h1v1h11v-1h2v1h2v-1h1v1h2v1h2v-1h1v-1h1v1h3v-1h3v1h2v-1h2v1h1v1h1v-1h2v-1h1v1h2v1h2v-1h3v1h1v-1h3v1h3v1h1v-1h1v-1h1v1h5v1h3v-2h2v1h3v-1h1v1h3v-1h1v1h19v-1h1v1h15v-1h2v1h1v-1h2v1h4v1h2v-1h1v1h1v-1h3v1h2v-1h1v1h6v1h1v-1h3v1h4v-1h1v-1h1v1h3v1h2v-1h1v1h3v-1h2v1h3v1h1v-1h5v5h-4v-1h-2v1h-1v-1h-2v-1h-7v1h-3v-1h-2v-1h-1v2h-2v-1h-3v1h-1v-1h-5v1h-1v-1h-4v-2h-1v1h-2v1h-1v-1h-1v1h-1v1h-1v-1h-2v-1h-2v1h-1v-1h-1v-1h-1v1h-2v-1h-4v1h-3v-1h-2v1h-4v-1h-1v1h-1v1h-1v-1h-3v-1h-1v1h-2v-1h-1v1h-1v-1h-2v1h-2v2h-2v-1h-1v-1h-10v1h-3v-1h-1v1h-2v-1h-1v1h-1v-1h-1v1h-1v-1h-5v-1h-3v1h-1v-1h-1v1h-1v-1h-3v-1h-2v1h-4v1h-2v-1h-4v-1h-2v1h-1v1h-1v-1h-1v-1h-6v1h-1v1h-1v-1h-1v-1h-3v1h-2v-1h-3v1h-1v-1h-2v1h-2v-1h-1v1h-2v1h-2v-2h-3v1h-1v-1h-4v1h-2v1h-1v-1h-3v-2h-1v1h-1v-1h-2v1h-1v-1h-2v1h-1v-1h-3v-1h-2v1h-4v-2h-2v-1h-2v1h-1v-1h-1v1h-4v-2h-2v1h-2v1h-1v-1h-3v2h-4v2h-1v1h-1v-1h-1v-1h-1v1h-1v-1h-1v1h-1v-1h-6v1h-1v-1h-1v-1h-2v-1h-1v1h-3v1h-2v-1h-2v-1h-1v1h-3v-1h-10v1h-2v1h-1v-1h-1v-1h-6v-1h-4v1h-1v-1h-2v-1h-1v1h-5v-1h-2v1h-4v-1h-3v1h-11v1h-4v-1h-1v1h-2v-1h-3v-2h-2v1h-2v-1h-1v1h-1v1h-1v-1h-4v-1h-1v1h-3v-1h-2v1h-1v-1h-1v2h-1v1h-1v-1h-2v-1h-1v1h-1v-1h-1v-1h-1v1h-1v-1h-5v1h-2v-1h-3v-1h-2v1h-2v-1h-2v1h-1v-1h-3v-1h-5v-1h-1v1h-1v-1h-2v-1h-3v-1h-2v1h-4v-1h-1v-1h-1v2h-1v1h-1v-1h-1v-1h-1v-2h-6v-1h-1v1h-1v-1h-1v-1h-1v-1h-1v-1h-2v-1h-1v-1h-3v1h-1v1h-1v2h-1v-1h-2v-1h-1v-2h-1v-1h-1v-2h-3v-3h-2v-1h-1v-1h-1v-1h-1v-1h-2v2h-1v-1h-1v-2h-1v1h-1v1h-1v1h-1v-1h-1v1h-1v1h-1v1h-1v1h-2v-1h-1v1h-2v1h-3v2h-2v-1h-1v1h-3v-1h-5v1h-2v-1h-1v1h-1v-1h-3v1h-2v-2h-4v1h-1v-1h-1v1h-1v-1h-1v-1h-3v1h-1v1h-1v-2h-1v-1h-2v1h-1v-1h-1v-2h-1v-1h-1v-1h-1v1h-1v1h-1v-1h-1v-1h-2v-1h-2v-1h-2v-2h-3v-2h-4v-1h-2v-1h-1v1h-1v1h-1v-1h-1v-5h-1v-1h-2v-2h-1v-1h-2v-1h-1v-1h-1v-3h-1v-1h-1v-2h-1v-1h-1v-2h-1v-1h-1v-2h-2v-1h-1v-3h-1v-1h-1v-1h-1v-6h-1v-3h-1v-6h-1v-4h-1v-6h-1v-3h-1v-5h-1v-4h-1v-5h-1v-3h-1v-4h-1v-7h-1v-9h-1v-9h-1v-17h-1v-23h-1v-21h-1v-20h-1v-31h-1v-38h-1v-35h-1v-37h-1v-33h-1v-3h-1v15h-1v28h-1v31h-1v55h-1v43h-1v29h-1v16h-1v11h-1v14h-1v17h-1v9h-1v12h-1v6h-1v7h-1v6h-1v6h-1v6h-1v2h-1v3h-1v2h1v1h-1v1h-2v1h-1v-5h-1v-2h-3v6h-1v7h-1v7h-1v4h-1v7h-1v1h-1v1h-2v2h-1v2h-1v1h-1v2h-3v4h-1v1h-2v3h-1v1h-1v1h-1v1h-1v1h-2v1h-1v1h-1v1h-2v-1h-1v2h-1v1h-1v-1h-2v1h-1v4h-1v1h-1v-1h-2v-1h-2v1h-2v1h-1v1h-1v1h-5v1h-2v1h-2v1h-3v-1h-1v2h-5v1h-1v-1h-1v1h-2v-1h-1v1h-1v2h-1v-1h-1v-1h-5v1h-1v-1h-6v-1h-2v1h-1v-1h-3v1h-2v-1h-1v-1h-1v2h-2v-3h-2v1h-2v1h-2v1h-1v-1h-1v-2h-2v1h-3v1h-1v-1h-1v-1h1v-1h-1v1h-3v-1h-3v2h-1v-1h-2v3h-1v-1h-1v-1h-1v1h-1v-1h-1v-3h-1v1h-4v1h-1v-1h-2v2h-2v-1h-3v1h-2v-2h-1v1h-1v-1h-5v1h-1v1h-3v-1h-2v-1h-1v1h-1v-4h3v-1h1v1h2v-1h1v-1h2v2h4v-1h1v-1h1v1h1v1h3v-1h2v1h1v-2h1v-1h1v1h1v1h5v1h1v-1h2v1h6v-1h2v-2h1v-1h2v3h2v1h1v1h2v-1h7v2h1v-1h1v-1h1v1h5v-1h1v1h2v1h4v1h2v1h6v-1h3v1h2v-1h1v-1h3v-1h3v-1h1v1h3v-1h3v1h2v-1h2v-1h1v-1h1v-2h1v-1h1v1h1v2h1v-2h1v-2h1v1h1v-1h2v-1h2v1h1v-1h1v-1h2v-1h1v-1h2v-1h1v-1h1v-1h3v-2h1v-1h2v-1h1v-2h3v-3h1v-1h1v-2h2v-3h1v-1h1v1h1v-1h1v-2h2v-1h1v-2h1v-5h1v-6h1v-6h1v-6h1v-6h1v-6h1v-1h1v1h1v1h1v2h1v1h1v2h1v-1h1v-4h1v-5h1v-5h1v-8h1v-5h1v-9h1v-10h1v-10h1v-18h1v-11h1v-12h1v-24h1v-26h1v-59h1v-35h1v-33h1v-28h1v-14h1v-6h1z"/>
</g>
<g stroke="#000" stroke-width="8.9" stroke-dasharray="33.9 24.46" fill="none">
<line x1="497.4" y1="111.64" x2="497.4" y2="1308"/>
<line x1="553.5" y1="111.64" x2="553.5" y2="1308"/>
<line x1="832.4" y1="111.64" x2="832.4" y2="1308"/>
</g>
<rect x="827.4" y="112.8" width="1.5" height="20.2" fill="#fff" fill-opacity="0.7"/>
<rect x="1368" y="115.5" width="387.5" height="369.5" fill="#fff"/>
<rect x="1371.1" y="118.4" width="381.5" height="364.0" fill="#fff" stroke="#000" stroke-width="2.4"/>
<line x1="1421.5" y1="160.0" x2="1554" y2="160.0" stroke="#000000" stroke-width="4.4"/>
<line x1="1421.5" y1="231.9" x2="1554" y2="231.9" stroke="#ff0000" stroke-width="4.4"/>
<line x1="1421.5" y1="303.8" x2="1554" y2="303.8" stroke="#0000ff" stroke-width="4.4"/>
<line x1="1421.5" y1="375.8" x2="1554" y2="375.8" stroke="#ff00ff" stroke-width="4.4"/>
<line x1="1421.5" y1="447.6" x2="1554" y2="447.6" stroke="#008000" stroke-width="4.4"/>
<text x="0" y="0" font-size="58.90" transform="translate(1566.70,180.30)">Raw</text>
<text x="0" y="0" font-size="58.90" transform="translate(1566.20,251.50)">70<tspan class="dc" font-size="54.8" x="70.4" dy="2.7" textLength="49.0" lengthAdjust="spacingAndGlyphs">℃</tspan></text>
<text x="0" y="0" font-size="58.90" transform="translate(1566.90,323.40)">90<tspan class="dc" font-size="54.8" x="69.7" dy="2.7" textLength="49.0" lengthAdjust="spacingAndGlyphs">℃</tspan></text>
<text x="0" y="0" font-size="58.90" transform="translate(1566.50,395.50)">110<tspan class="dc" font-size="54.8" x="104.0" dy="2.7" textLength="49.0" lengthAdjust="spacingAndGlyphs">℃</tspan></text>
<text x="0" y="0" font-size="58.90" transform="translate(1566.50,467.60)">130<tspan class="dc" font-size="54.8" x="104.0" dy="2.7" textLength="49.0" lengthAdjust="spacingAndGlyphs">℃</tspan></text>
<text x="0" y="0" font-size="47.40" text-anchor="middle" transform="translate(155.40,1379.60)">10</text>
<text x="0" y="0" font-size="47.40" text-anchor="middle" transform="translate(557.30,1379.60)">20</text>
<text x="0" y="0" font-size="47.40" text-anchor="middle" transform="translate(959.25,1379.60)">30</text>
<text x="0" y="0" font-size="47.40" text-anchor="middle" transform="translate(1361.20,1379.60)">40</text>
<text x="0" y="0" font-size="47.40" text-anchor="middle" transform="translate(1763.10,1379.60)">50</text>
<text x="0" y="0" font-size="58.40" text-anchor="middle" transform="translate(957.50,1476.50)">2θ (°)</text>
<text x="0" y="0" font-size="58.87" text-anchor="middle" transform="translate(85.00,744.50) scale(1.0500,1.0000) rotate(-90)">Intensity (a.u.)</text>
<text class="gk" x="0" y="0" font-size="80.00" text-anchor="middle" transform="translate(496.70,92.60) scale(1.0500,1.0000)">α</text>
<text class="gk" x="0" y="0" font-size="72.50" text-anchor="middle" transform="translate(553.20,92.00) scale(1.1900,1.0000)">β</text>
<text class="gk" x="0" y="0" font-size="80.00" text-anchor="middle" transform="translate(833.90,92.60) scale(1.0500,1.0000)">α</text>
</svg></body></html>
